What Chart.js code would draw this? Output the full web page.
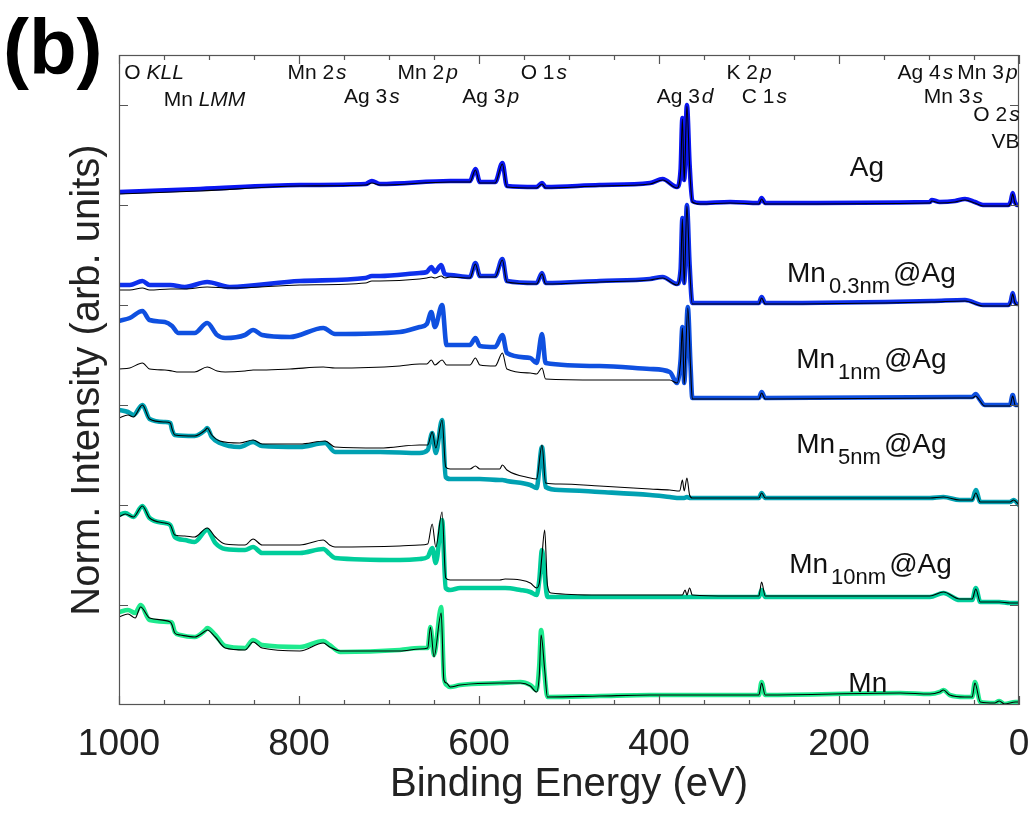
<!DOCTYPE html>
<html>
<head>
<meta charset="utf-8">
<script src="https://cdn.jsdelivr.net/npm/chart.js@4"></script>
<style>html,body{margin:0;padding:0;background:#fff}canvas{display:block}</style>
</head>
<body>
<canvas id="c" width="1030" height="813"></canvas>
<script>
// ---------- data (binding energy in eV, normalized intensity with vertical offsets) ----------
const agEnergy = [1000, 910, 799, 726, 719, 710, 632, 610, 604, 599, 582, 574, 569, 536, 530, 526, 466, 410, 396, 380, 376, 374, 372, 369, 366, 363, 354, 321, 289, 286, 282, 99, 97, 88, 71, 60, 49, 40, 12, 9, 7, 5, 2, 0];
const agFilm = [5.13, 5.16, 5.20, 5.21, 5.24, 5.21, 5.24, 5.24, 5.36, 5.23, 5.23, 5.42, 5.19, 5.18, 5.22, 5.18, 5.20, 5.22, 5.26, 5.18, 5.35, 5.87, 5.25, 6.00, 5.40, 5.04, 5.02, 5.03, 5.02, 5.07, 5.02, 5.03, 5.05, 5.03, 5.04, 5.06, 5.03, 5.00, 5.00, 5.04, 5.12, 5.04, 5.00, 5.00];
const agRef = [5.11, 5.14, 5.19, 5.20, 5.22, 5.20, 5.23, 5.23, 5.35, 5.22, 5.22, 5.41, 5.18, 5.17, 5.21, 5.17, 5.19, 5.21, 5.25, 5.17, 5.34, 5.86, 5.24, 5.99, 5.39, 5.03, 5.01, 5.02, 5.01, 5.06, 5.01, 5.02, 5.04, 5.02, 5.03, 5.05, 5.02, 4.99, 4.99, 5.03, 5.11, 5.03, 4.99, 4.99];

const mn03Energy = [1000, 988, 974, 966, 943, 927, 902, 877, 799, 726, 719, 710, 666, 658, 653, 649, 642, 638, 632, 610, 604, 599, 582, 574, 569, 536, 530, 526, 466, 410, 396, 380, 376, 374, 372, 369, 366, 363, 321, 289, 286, 282, 97, 60, 40, 12, 9, 7, 5, 2, 0];
const mn03Film = [4.20, 4.20, 4.24, 4.20, 4.20, 4.18, 4.23, 4.18, 4.24, 4.27, 4.29, 4.29, 4.32, 4.33, 4.38, 4.33, 4.40, 4.31, 4.30, 4.28, 4.42, 4.29, 4.29, 4.46, 4.24, 4.22, 4.32, 4.22, 4.24, 4.26, 4.28, 4.21, 4.35, 4.87, 4.22, 5.00, 4.40, 4.02, 4.02, 4.02, 4.08, 4.02, 4.04, 4.05, 4.00, 4.00, 4.04, 4.12, 4.04, 4.01, 4.01];
const mn03Ref = [4.15, 4.15, 4.17, 4.15, 4.16, 4.16, 4.18, 4.17, 4.20, 4.22, 4.24, 4.24, 4.26, 4.27, 4.28, 4.27, 4.29, 4.27, 4.28, 4.27, 4.41, 4.28, 4.28, 4.45, 4.23, 4.21, 4.31, 4.21, 4.23, 4.25, 4.27, 4.20, 4.34, 4.86, 4.21, 4.99, 4.39, 4.01, 4.01, 4.01, 4.07, 4.01, 4.03, 4.04, 3.99, 3.99, 4.03, 4.11, 4.03, 4.00, 4.00];

const mn1Energy = [1000, 988, 974, 966, 949, 941, 934, 916, 902, 891, 882, 860, 851, 841, 810, 773, 760, 688, 666, 658, 653, 649, 641, 636, 621, 610, 604, 599, 582, 574, 569, 543, 536, 530, 526, 466, 410, 388, 380, 376, 374, 372, 368, 365, 363, 321, 289, 286, 282, 66, 52, 48, 44, 38, 10, 7, 4, 0];
const mn1Film = [3.84, 3.87, 3.94, 3.85, 3.83, 3.79, 3.72, 3.72, 3.82, 3.70, 3.67, 3.70, 3.75, 3.70, 3.68, 3.77, 3.71, 3.73, 3.78, 3.81, 3.93, 3.78, 4.00, 3.60, 3.60, 3.60, 3.67, 3.59, 3.58, 3.70, 3.52, 3.47, 3.42, 3.71, 3.42, 3.39, 3.36, 3.33, 3.22, 3.45, 3.78, 3.22, 3.98, 3.40, 3.07, 3.07, 3.07, 3.13, 3.07, 3.08, 3.08, 3.11, 3.06, 3.00, 3.00, 3.10, 3.00, 3.00];
const mn1Ref = [3.36, 3.37, 3.42, 3.36, 3.35, 3.34, 3.33, 3.33, 3.38, 3.34, 3.33, 3.34, 3.35, 3.35, 3.36, 3.38, 3.37, 3.39, 3.41, 3.41, 3.45, 3.40, 3.45, 3.40, 3.40, 3.40, 3.47, 3.40, 3.39, 3.52, 3.36, 3.32, 3.31, 3.37, 3.26, 3.25, 3.25, 3.25, 3.22, 3.44, 3.77, 3.21, 3.97, 3.39, 3.06, 3.06, 3.06, 3.12, 3.06, 3.07, 3.07, 3.09, 3.05, 2.99, 2.99, 3.09, 2.99, 2.99];

const mn5Energy = [1000, 990, 984, 974, 966, 949, 943, 941, 938, 916, 904, 902, 897, 888, 866, 851, 841, 799, 771, 760, 710, 666, 657, 652, 648, 641, 637, 632, 610, 604, 599, 577, 574, 569, 543, 536, 530, 526, 510, 466, 410, 388, 377, 374, 372, 369, 366, 363, 321, 289, 286, 282, 99, 84, 66, 52, 48, 43, 10, 6, 0];
const mn5Film = [2.95, 2.93, 2.90, 3.00, 2.86, 2.83, 2.82, 2.75, 2.70, 2.69, 2.75, 2.77, 2.68, 2.62, 2.58, 2.63, 2.59, 2.58, 2.62, 2.53, 2.53, 2.52, 2.55, 2.72, 2.52, 2.85, 2.28, 2.26, 2.26, 2.26, 2.26, 2.25, 2.25, 2.24, 2.20, 2.17, 2.58, 2.18, 2.15, 2.13, 2.10, 2.08, 2.07, 2.07, 2.07, 2.08, 2.07, 2.07, 2.07, 2.07, 2.12, 2.07, 2.07, 2.08, 2.05, 2.05, 2.15, 2.03, 2.03, 2.05, 2.00];
const mn5Ref = [2.87, 2.90, 2.88, 3.00, 2.86, 2.83, 2.82, 2.76, 2.70, 2.69, 2.75, 2.77, 2.70, 2.64, 2.62, 2.65, 2.61, 2.61, 2.64, 2.58, 2.57, 2.60, 2.60, 2.73, 2.57, 2.85, 2.38, 2.36, 2.36, 2.39, 2.36, 2.36, 2.40, 2.35, 2.27, 2.26, 2.60, 2.22, 2.21, 2.19, 2.16, 2.15, 2.14, 2.25, 2.14, 2.27, 2.10, 2.07, 2.07, 2.07, 2.12, 2.07, 2.07, 2.08, 2.05, 2.05, 2.12, 2.03, 2.03, 2.05, 2.00];

const mn10Energy = [1000, 993, 984, 974, 966, 949, 943, 938, 927, 916, 902, 893, 882, 860, 851, 841, 799, 773, 766, 760, 688, 666, 657, 652, 648, 641, 637, 632, 621, 577, 571, 554, 543, 536, 533, 530, 527, 524, 520, 466, 410, 377, 374, 371, 369, 366, 363, 321, 289, 286, 282, 99, 84, 66, 52, 48, 43, 22, 10, 0];
const mn10Film = [1.90, 1.92, 1.88, 1.99, 1.87, 1.82, 1.80, 1.68, 1.65, 1.63, 1.75, 1.62, 1.56, 1.55, 1.58, 1.52, 1.52, 1.56, 1.51, 1.47, 1.45, 1.46, 1.48, 1.57, 1.42, 1.85, 1.17, 1.15, 1.17, 1.17, 1.17, 1.15, 1.13, 1.10, 1.25, 1.55, 1.30, 1.08, 1.08, 1.08, 1.08, 1.08, 1.08, 1.08, 1.08, 1.08, 1.08, 1.08, 1.08, 1.15, 1.08, 1.08, 1.12, 1.05, 1.05, 1.17, 1.03, 1.03, 1.02, 1.02];
const mn10Ref = [1.88, 1.91, 1.88, 1.99, 1.87, 1.82, 1.80, 1.70, 1.69, 1.68, 1.77, 1.68, 1.61, 1.60, 1.66, 1.60, 1.60, 1.65, 1.60, 1.58, 1.59, 1.60, 1.61, 1.81, 1.58, 1.93, 1.27, 1.25, 1.25, 1.25, 1.26, 1.25, 1.22, 1.17, 1.22, 1.50, 1.75, 1.20, 1.12, 1.10, 1.10, 1.10, 1.10, 1.15, 1.10, 1.17, 1.10, 1.09, 1.09, 1.23, 1.09, 1.09, 1.13, 1.06, 1.06, 1.16, 1.03, 1.03, 1.02, 1.02];

const mnEnergy = [1000, 990, 982, 976, 966, 943, 941, 938, 932, 916, 904, 902, 893, 882, 860, 851, 841, 799, 773, 766, 754, 688, 666, 657, 654, 650, 642, 639, 636, 632, 621, 577, 554, 543, 536, 533, 531, 527, 524, 466, 410, 321, 299, 289, 286, 282, 132, 99, 88, 84, 77, 60, 52, 49, 43, 27, 22, 16, 4, 0];
const mnFilm = [0.93, 0.95, 0.92, 1.00, 0.85, 0.83, 0.82, 0.73, 0.70, 0.68, 0.75, 0.77, 0.70, 0.59, 0.57, 0.65, 0.60, 0.58, 0.64, 0.60, 0.53, 0.55, 0.57, 0.57, 0.78, 0.50, 0.98, 0.28, 0.20, 0.18, 0.20, 0.22, 0.23, 0.20, 0.15, 0.40, 0.75, 0.30, 0.08, 0.09, 0.10, 0.10, 0.10, 0.10, 0.23, 0.10, 0.12, 0.11, 0.13, 0.15, 0.10, 0.08, 0.08, 0.23, 0.03, 0.02, 0.04, 0.01, 0.03, 0.03];
const mnRef = [0.88, 0.91, 0.87, 0.98, 0.87, 0.83, 0.80, 0.72, 0.70, 0.68, 0.74, 0.75, 0.68, 0.57, 0.55, 0.63, 0.57, 0.54, 0.62, 0.58, 0.54, 0.54, 0.56, 0.57, 0.78, 0.48, 0.92, 0.25, 0.22, 0.18, 0.20, 0.22, 0.22, 0.19, 0.13, 0.30, 0.70, 0.35, 0.08, 0.09, 0.10, 0.10, 0.10, 0.10, 0.22, 0.10, 0.12, 0.11, 0.13, 0.15, 0.10, 0.08, 0.08, 0.22, 0.03, 0.02, 0.04, 0.01, 0.03, 0.03];

// sample names and colours
const sampleNames = ['Ag', 'Mn0.3nm@Ag', 'Mn1nm@Ag', 'Mn5nm@Ag', 'Mn10nm@Ag', 'Mn'];
const sampleColors = ['#0a16f2', '#0e30ec', '#0f50e0', '#00a1b2', '#00cd9b', '#1eea8e'];

// x-axis tick labels
const xTickLabels = ['1000', '800', '600', '400', '200', '0'];

// peak annotations along the top
const peakNames = ['O ', 'Mn ', 'Mn 2', 'Ag 3', 'Mn 2', 'Ag 3', 'O 1', 'Ag 3', 'K 2', 'C 1', 'Ag 4', 'Mn 3', 'Mn 3', 'O 2', 'VB'];
const peakOrbitals = ['KLL', 'LMM', 's', 's', 'p', 'p', 's', 'd', 'p', 's', 's', 'p', 's', 's', ''];
const peakEnergies = [961, 905, 780, 719, 657, 587, 528, 371, 300, 283, 104, 35, 73, 25, 15];
const peakRows = [6.32, 6.05, 6.32, 6.08, 6.32, 6.08, 6.32, 6.08, 6.32, 6.08, 6.32, 6.32, 6.08, 5.90, 5.63];

// sample labels (main text, subscript, tail)
const labelMain = ['Ag', 'Mn', 'Mn', 'Mn', 'Mn', 'Mn'];
const labelSub = ['', '0.3nm', '1nm', '5nm', '10nm', ''];
const labelTail = ['', '@Ag', '@Ag', '@Ag', '@Ag', ''];
const labelEnergy = [169, 164, 164, 164, 165, 168];
const labelLevel = [5.29, 4.23, 3.37, 2.52, 1.32, 0.13];

const panelLabel = '(b)';

// ---------- chart ----------
const FONT = '"Liberation Sans", Arial, Helvetica, sans-serif';
Chart.defaults.font.family = FONT;
Chart.defaults.color = '#111';

const energies = [agEnergy, mn03Energy, mn1Energy, mn5Energy, mn10Energy, mnEnergy];
const films = [agFilm, mn03Film, mn1Film, mn5Film, mn10Film, mnFilm];
const refs = [agRef, mn03Ref, mn1Ref, mn5Ref, mn10Ref, mnRef];

function toPoints(E, V) { return E.map((e, i) => ({x: e, y: V[i]})); }

const datasets = [];
energies.forEach((E, k) => {
  datasets.push({
    label: sampleNames[k], data: toPoints(E, films[k]),
    borderColor: sampleColors[k], borderWidth: 4.6, order: 1,
    pointRadius: 0, cubicInterpolationMode: 'monotone', fill: false,
    borderJoinStyle: 'round', borderCapStyle: 'round'
  });
  datasets.push({
    label: sampleNames[k] + ' reference', data: toPoints(E, refs[k]),
    borderColor: '#000', borderWidth: 1.1, order: 0,
    pointRadius: 0, cubicInterpolationMode: 'monotone', fill: false,
    borderJoinStyle: 'round'
  });
});

const frameColor = '#555';

const decor = {
  id: 'decor',
  afterDraw(chart) {
    const {ctx, chartArea: a, scales: {x, y}} = chart;
    ctx.save();
    // frame
    ctx.strokeStyle = frameColor; ctx.lineWidth = 1.2;
    ctx.strokeRect(a.left + 0.5, a.top + 0.5, a.right - a.left - 1, a.bottom - a.top - 1);
    // inward ticks
    ctx.beginPath();
    x.ticks.forEach(t => {
      const px = Math.round(x.getPixelForValue(t.value)) + 0.5;
      const len = (t.value % 200 === 0) ? 9 : 5;
      ctx.moveTo(px, a.bottom); ctx.lineTo(px, a.bottom - len);
      ctx.moveTo(px, a.top); ctx.lineTo(px, a.top + len);
    });
    y.ticks.forEach(t => {
      if (t.value > 0 && Number.isInteger(t.value)) {
        const py = Math.round(y.getPixelForValue(t.value)) + 0.5;
        ctx.moveTo(a.left, py); ctx.lineTo(a.left + 9, py);
        ctx.moveTo(a.right, py); ctx.lineTo(a.right - 9, py);
      }
    });
    ctx.stroke();

    // peak annotations
    ctx.fillStyle = '#111';
    ctx.textBaseline = 'middle';
    ctx.textAlign = 'left';
    const fN = '21px ' + FONT, fI = 'italic 21px ' + FONT;
    peakNames.forEach((n, i) => {
      ctx.font = fN; const w1 = ctx.measureText(n).width;
      ctx.font = fI; const w2 = ctx.measureText(peakOrbitals[i]).width;
      const gap = peakOrbitals[i] && !n.endsWith(' ') ? 2 : 0;
      const cx = x.getPixelForValue(peakEnergies[i]);
      const cy = y.getPixelForValue(peakRows[i]);
      const x0 = cx - (w1 + gap + w2) / 2;
      ctx.font = fN; ctx.fillText(n, x0, cy);
      ctx.font = fI; ctx.fillText(peakOrbitals[i], x0 + w1 + gap, cy);
    });

    // sample labels
    ctx.textBaseline = 'alphabetic';
    const fM = '28px ' + FONT, fS = '22px ' + FONT;
    labelMain.forEach((m, i) => {
      ctx.font = fM; const wm = ctx.measureText(m).width;
      const wt = ctx.measureText(labelTail[i]).width;
      ctx.font = fS; const ws = ctx.measureText(labelSub[i]).width;
      const g = labelSub[i] ? 3 : 0;
      const total = wm + g + ws + g + wt;
      const cx = x.getPixelForValue(labelEnergy[i]);
      const by = y.getPixelForValue(labelLevel[i]);
      let px = cx - total / 2;
      ctx.font = fM; ctx.fillText(m, px, by); px += wm + g;
      ctx.font = fS; ctx.fillText(labelSub[i], px, by + 11); px += ws + g;
      ctx.font = fM; ctx.fillText(labelTail[i], px, by);
    });

    // panel label
    ctx.font = 'bold 78px ' + FONT;
    ctx.fillStyle = '#000';
    ctx.fillText(panelLabel, 3, 74);
    ctx.restore();
  }
};

new Chart(document.getElementById('c'), {
  type: 'line',
  data: {datasets},
  options: {
    responsive: false,
    animation: false,
    devicePixelRatio: 1,
    layout: {padding: {top: 55, right: 11, left: 0, bottom: 0}},
    plugins: {legend: {display: false}, tooltip: {enabled: false}},
    scales: {
      x: {
        type: 'linear', reverse: true, min: 0, max: 1000,
        grid: {display: false, drawTicks: false},
        border: {display: false},
        ticks: {
          stepSize: 50, autoSkip: false, maxRotation: 0, padding: 18,
          font: {size: 37}, color: '#222',
          callback: v => xTickLabels.includes(String(v)) ? String(v) : ''
        },
        title: {display: true, text: 'Binding Energy (eV)', font: {size: 40}, color: '#222', padding: {top: 0, bottom: 4}},
        afterFit: s => { s.height = 108; s.paddingLeft = 0; s.paddingRight = 0; }
      },
      y: {
        type: 'linear', min: 0, max: 6.5,
        grid: {display: false, drawTicks: false},
        border: {display: false},
        ticks: {stepSize: 1, display: false},
        title: {display: true, text: 'Norm. Intensity (arb. units)', font: {size: 40}, color: '#222', padding: {top: 64, bottom: 0}},
        afterFit: s => { s.width = 119; s.paddingTop = 0; s.paddingBottom = 0; }
      }
    }
  },
  plugins: [decor]
});
</script>
</body>
</html>
